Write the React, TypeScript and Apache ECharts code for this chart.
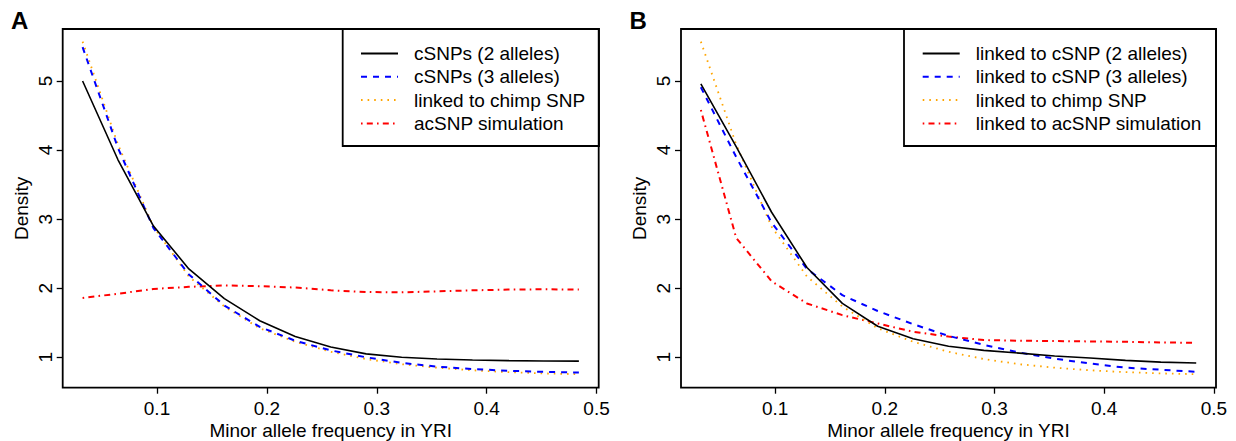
import React, { useEffect, useRef } from 'react';
import * as echarts from 'echarts';

// Minor allele frequency bins (x)
const freqBins = [0.0323, 0.0645, 0.0968, 0.1290, 0.1613, 0.1935, 0.2258, 0.2581, 0.2903, 0.3226, 0.3548, 0.3871, 0.4194, 0.4516, 0.4839];

// Panel A
const cSnp2 = [5.0, 3.86, 2.90, 2.28, 1.85, 1.53, 1.30, 1.15, 1.05, 1.00, 0.976, 0.962, 0.952, 0.947, 0.945];
const cSnp3 = [5.49, 4.03, 2.87, 2.20, 1.75, 1.44, 1.24, 1.10, 1.00, 0.92, 0.865, 0.83, 0.805, 0.79, 0.78];
const chimpSnp = [5.57, 4.08, 2.89, 2.17, 1.735, 1.42, 1.225, 1.08, 0.975, 0.90, 0.85, 0.812, 0.785, 0.767, 0.755];
const acSnpSim = [1.86, 1.92, 1.99, 2.02, 2.04, 2.03, 2.01, 1.97, 1.945, 1.94, 1.955, 1.97, 1.98, 1.985, 1.98];

// Panel B
const linkedC2 = [4.96, 4.05, 3.10, 2.30, 1.78, 1.45, 1.27, 1.16, 1.10, 1.06, 1.02, 0.99, 0.955, 0.93, 0.918];
const linkedC3 = [4.91, 3.90, 2.95, 2.28, 1.90, 1.67, 1.48, 1.31, 1.18, 1.07, 0.98, 0.91, 0.85, 0.82, 0.79];
const linkedAc = [4.58, 2.73, 2.10, 1.78, 1.61, 1.49, 1.37, 1.30, 1.25, 1.24, 1.235, 1.23, 1.225, 1.215, 1.21];

const xTicks = [0.1, 0.2, 0.3, 0.4, 0.5];
const yTicks = [1, 2, 3, 4, 5];

const namesA = ['cSNPs (2 alleles)', 'cSNPs (3 alleles)', 'linked to chimp SNP', 'acSNP simulation'];
const namesB = ['linked to cSNP (2 alleles)', 'linked to cSNP (3 alleles)', 'linked to chimp SNP', 'linked to acSNP simulation'];

const FONT = '"Liberation Sans", Arial, Helvetica, sans-serif';
const FS = 19;

const styles = [
  { color: '#000000', width: 1.6, type: 'solid' as any },
  { color: '#0000ff', width: 2, type: [6, 6] as any },
  { color: '#ffa500', width: 1.8, type: [1.6, 5] as any },
  { color: '#ff0000', width: 2, type: [1.6, 4.2, 6, 4.2] as any },
];

const pairs = (ys: number[]) => freqBins.map((x, i) => [x, ys[i]]);

export default function App() {
  const ref = useRef<HTMLDivElement>(null);
  useEffect(() => {
    if (!ref.current) return;
    const chart = echarts.init(ref.current, undefined, { renderer: 'svg' });
    const gridTop = 29;
    const gridH = 358.7;
    const gridW = 536;
    const gridBase = { top: gridTop, height: gridH, show: true, borderColor: '#000', borderWidth: 1.8, backgroundColor: 'transparent', containLabel: false, outerBoundsMode: 'none' };
    const grids = [
      { ...gridBase, left: 62.7, width: gridW },
      { ...gridBase, left: 681, width: gridW - 1 },
    ];
    const mkX = (gi: number) => ({
      type: 'value',
      gridIndex: gi,
      min: 0.014194,
      max: 0.501935,
      axisLine: { show: false },
      splitLine: { show: false },
      axisTick: { show: true, length: 6, lineStyle: { color: '#000', width: 1.3 }, customValues: xTicks },
      axisLabel: { customValues: xTicks, color: '#000', fontSize: FS, fontFamily: FONT, margin: 11, formatter: (v: number) => String(v) },
      name: 'Minor allele frequency in YRI',
      nameLocation: 'middle',
      nameGap: 33,
      nameMoveOverlap: false,
      nameTextStyle: { color: '#000', fontSize: FS, fontFamily: FONT },
    });
    const mkY = (gi: number) => ({
      type: 'value',
      gridIndex: gi,
      min: 0.56,
      max: 5.753,
      axisLine: { show: false },
      splitLine: { show: false },
      axisTick: { show: true, length: 6, lineStyle: { color: '#000', width: 1.3 }, customValues: yTicks },
      axisLabel: { customValues: yTicks, color: '#000', fontSize: FS, fontFamily: FONT, margin: 8, rotate: 90, formatter: (v: number) => String(v) },
      name: 'Density',
      nameLocation: 'middle',
      nameGap: 32,
      nameMoveOverlap: false,
      nameTextStyle: { color: '#000', fontSize: FS, fontFamily: FONT },
    });
    const mkSeries = (names: string[], datas: number[][], gi: number) =>
      names.map((n, k) => ({
        type: 'line',
        name: n,
        xAxisIndex: gi,
        yAxisIndex: gi,
        data: pairs(datas[k]),
        symbol: 'none',
        lineStyle: { color: styles[k].color, width: styles[k].width, type: styles[k].type },
        itemStyle: { color: styles[k].color },
        z: 10 - k,
      }));
    const legendBase = {
      orient: 'vertical',
      itemWidth: 37,
      itemHeight: 14,
      itemGap: 4.3,
      padding: 0,
      selectedMode: false,
      itemStyle: { color: 'transparent', borderColor: 'transparent', borderWidth: 0, opacity: 0 },
      textStyle: { color: '#000', fontSize: FS, fontFamily: FONT, lineHeight: 19, padding: [0, 0, 0, 11] },
    };
    chart.setOption({
      animation: false,
      backgroundColor: '#ffffff',
      grid: grids,
      xAxis: [mkX(0), mkX(1)],
      yAxis: [mkY(0), mkY(1)],
      legend: [
        { ...legendBase, left: 360, top: 44, data: namesA },
        { ...legendBase, left: 921.7, top: 44, data: namesB },
      ],
      series: [
        ...mkSeries(namesA, [cSnp2, cSnp3, chimpSnp, acSnpSim], 0),
        ...mkSeries(namesB, [linkedC2, linkedC3, chimpSnp, linkedAc], 1),
      ],
      graphic: [
        { type: 'rect', shape: { x: 342.7, y: 29, width: 256.3, height: 117 }, style: { fill: 'transparent', stroke: '#000', lineWidth: 1.8 }, z: 5 },
        { type: 'rect', shape: { x: 904, y: 29, width: 312, height: 117 }, style: { fill: 'transparent', stroke: '#000', lineWidth: 1.8 }, z: 5 },
        { type: 'text', x: 11, y: 20.5, style: { text: 'A', fontSize: 24, fontWeight: 'bold', fontFamily: FONT, fill: '#000', verticalAlign: 'middle', align: 'left' } },
        { type: 'text', x: 629.5, y: 20.5, style: { text: 'B', fontSize: 24, fontWeight: 'bold', fontFamily: FONT, fill: '#000', verticalAlign: 'middle', align: 'left' } },
      ],
    });
    return () => chart.dispose();
  }, []);
  return <div ref={ref} style={{ position: 'fixed', left: 0, top: 0, width: 1236, height: 441 }} />;
}
